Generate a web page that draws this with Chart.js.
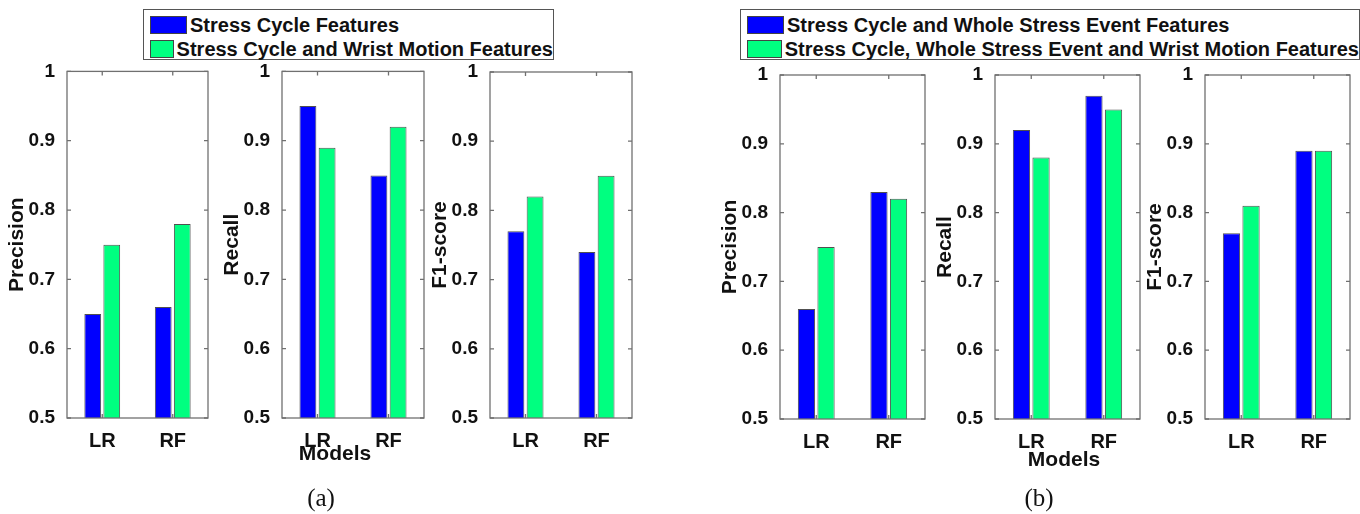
<!DOCTYPE html>
<html>
<head>
<meta charset="utf-8">
<script src="https://cdn.jsdelivr.net/npm/chart.js@4.4.1/dist/chart.umd.min.js"></script>
<style>
  body { margin: 0; background: #fff; width: 1360px; height: 514px; overflow: hidden; position: relative;
         font-family: "Liberation Sans", Arial, sans-serif; color: #111; }
  .plot { position: absolute; }
  .legend { position: absolute; border: 1px solid #555; background: #fff; box-sizing: border-box;
            font-weight: bold; font-size: 20px; padding-top: 3px; }
  .legend .row { display: flex; align-items: center; height: 24px; white-space: nowrap; }
  .legend .sw { width: 37px; height: 18px; border: 1px solid #444; box-sizing: border-box; margin: 0 3px 0 6px; }
  .note { position: absolute; transform: translate(-50%, -50%); white-space: nowrap; }
</style>
</head>
<body>
<script>
// ---- data ----
const models = ['LR', 'RF'];
const yTickLabels = ['0.5', '0.6', '0.7', '0.8', '0.9', '1'];
const seriesA = ['Stress Cycle Features', 'Stress Cycle and Wrist Motion Features'];
const seriesB = ['Stress Cycle and Whole Stress Event Features',
                 'Stress Cycle, Whole Stress Event and Wrist Motion Features'];

// panel (a)
const precisionA1 = [0.65, 0.66];
const precisionA2 = [0.75, 0.78];
const recallA1 = [0.95, 0.85];
const recallA2 = [0.89, 0.92];
const f1A1 = [0.77, 0.74];
const f1A2 = [0.82, 0.85];

// panel (b)
const precisionB1 = [0.66, 0.83];
const precisionB2 = [0.75, 0.82];
const recallB1 = [0.92, 0.97];
const recallB2 = [0.88, 0.95];
const f1B1 = [0.77, 0.89];
const f1B2 = [0.81, 0.89];

const barColors = ['#0000ff', '#00ff80'];
const FONT = '"Liberation Sans", Arial, sans-serif';

// matlab style box with inward ticks
const boxPlugin = {
  id: 'matlabBox',
  afterDatasetsDraw(chart) {
    const { ctx, chartArea: a, scales: { x, y } } = chart;
    ctx.save();
    ctx.strokeStyle = '#707070';
    ctx.lineWidth = 1.3;
    ctx.strokeRect(a.left, a.top, a.right - a.left, a.bottom - a.top);
    ctx.beginPath();
    y.ticks.forEach(t => {
      const py = y.getPixelForValue(t.value);
      ctx.moveTo(a.left, py); ctx.lineTo(a.left + 4, py);
      ctx.moveTo(a.right, py); ctx.lineTo(a.right - 4, py);
    });
    x.ticks.forEach((t, i) => {
      const px = x.getPixelForTick(i);
      ctx.moveTo(px, a.top); ctx.lineTo(px, a.top + 4);
      ctx.moveTo(px, a.bottom); ctx.lineTo(px, a.bottom - 4);
    });
    ctx.stroke();
    ctx.restore();
  }
};

function makeChart(p) {
  const axisW = 62, axisH = 30, canvasTop = 56;
  const div = document.createElement('div');
  div.className = 'plot';
  div.style.left = (p.left - axisW) + 'px';
  div.style.top = canvasTop + 'px';
  div.style.width = (p.right - p.left + axisW + 6) + 'px';
  div.style.height = (p.bottom - canvasTop + axisH) + 'px';
  const canvas = document.createElement('canvas');
  div.appendChild(canvas);
  document.body.appendChild(div);

  new Chart(canvas, {
    type: 'bar',
    data: {
      labels: models,
      datasets: p.series.map((name, i) => ({
        label: name,
        data: p.values[i],
        backgroundColor: barColors[i],
        borderColor: '#505050',
        borderWidth: 1,
        categoryPercentage: 0.54,
        barPercentage: 0.88
      }))
    },
    options: {
      responsive: true,
      maintainAspectRatio: false,
      animation: false,
      layout: { padding: { top: p.top - canvasTop, right: 6, left: 0, bottom: 0 } },
      plugins: { legend: { display: false }, tooltip: { enabled: false } },
      scales: {
        x: {
          grid: { display: false },
          border: { display: false },
          ticks: { color: '#111', padding: 3, font: { family: FONT, size: 20, weight: 'bold' } },
          afterFit: s => { s.height = axisH; }
        },
        y: {
          min: 0.5, max: 1,
          grid: { display: false },
          border: { display: false },
          ticks: {
            stepSize: 0.1, color: '#111', padding: 4,
            font: { family: FONT, size: 19, weight: 'bold' },
            callback: v => yTickLabels[Math.round((v - 0.5) * 10)]
          },
          title: {
            display: true, text: p.title, color: '#111', padding: { top: 0, bottom: 2 },
            font: { family: FONT, size: 21, weight: 'bold' }
          },
          afterFit: s => { s.width = axisW; }
        }
      }
    },
    plugins: [boxPlugin]
  });
}

const plots = [
  { left: 67, right: 208, top: 70, bottom: 418, title: 'Precision', series: seriesA, values: [precisionA1, precisionA2] },
  { left: 282, right: 424, top: 70, bottom: 418, title: 'Recall', series: seriesA, values: [recallA1, recallA2] },
  { left: 490, right: 632, top: 72, bottom: 418, title: 'F1-score', series: seriesA, values: [f1A1, f1A2] },
  { left: 780, right: 925, top: 75, bottom: 419, title: 'Precision', series: seriesB, values: [precisionB1, precisionB2] },
  { left: 995, right: 1140, top: 75, bottom: 419, title: 'Recall', series: seriesB, values: [recallB1, recallB2] },
  { left: 1205, right: 1350, top: 75, bottom: 419, title: 'F1-score', series: seriesB, values: [f1B1, f1B2] }
];
plots.forEach(makeChart);

function makeLegend(names, left, top, width, height) {
  const box = document.createElement('div');
  box.className = 'legend';
  Object.assign(box.style, { left: left + 'px', top: top + 'px', width: width + 'px', height: height + 'px' });
  names.forEach((n, i) => {
    const row = document.createElement('div');
    row.className = 'row';
    const sw = document.createElement('span');
    sw.className = 'sw';
    sw.style.background = barColors[i];
    const t = document.createElement('span');
    t.textContent = n;
    row.appendChild(sw); row.appendChild(t);
    box.appendChild(row);
  });
  document.body.appendChild(box);
}
makeLegend(seriesA, 143, 9, 411, 51);
makeLegend(seriesB, 740, 9, 620, 51);

function note(text, x, y, css) {
  const d = document.createElement('div');
  d.className = 'note';
  d.textContent = text;
  d.style.left = x + 'px';
  d.style.top = y + 'px';
  Object.assign(d.style, css);
  document.body.appendChild(d);
}
note('Models', 335, 453, { fontSize: '21px', fontWeight: 'bold' });
note('Models', 1064, 459, { fontSize: '21px', fontWeight: 'bold' });
note('(a)', 321, 498, { fontSize: '25px', fontFamily: '"Liberation Serif", serif' });
note('(b)', 1039, 498, { fontSize: '25px', fontFamily: '"Liberation Serif", serif' });
</script>
</body>
</html>
